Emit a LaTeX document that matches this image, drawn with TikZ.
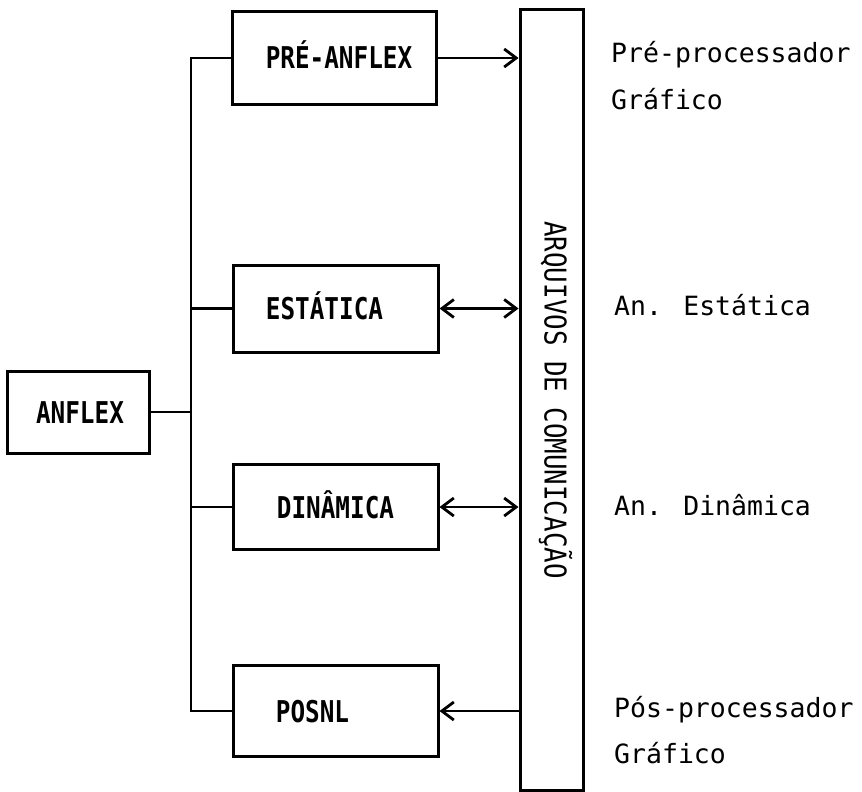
\documentclass[tikz,border=0pt]{standalone}
\usepackage{fontspec}
\usetikzlibrary{arrows.meta}
% monospaced faces, narrowed to the typewriter look of the drawing
\newfontfamily\boxfont[FakeStretch=0.81]{DejaVu Sans Mono}
\newfontfamily\barfont[FakeStretch=0.86]{DejaVu Sans Mono}
\newfontfamily\notefont{DejaVu Sans Mono}

\begin{document}
\begin{tikzpicture}[x=1pt,y=-1pt,
  box/.style={draw, line width=3pt, inner sep=0pt},
  boxlbl/.style={font={\fontsize{30pt}{32pt}\boxfont\bfseries}, text height=22pt, text depth=0pt, inner sep=0pt},
  barlbl/.style={font={\fontsize{30pt}{32pt}\barfont}, text height=22pt, text depth=0pt, inner sep=0pt, rotate=-90},
  note/.style={font={\fontsize{26.5pt}{28pt}\notefont}, anchor=base west, inner sep=0pt},
  wire/.style={line width=2.8pt},
  oneway/.style={-{Straight Barb[length=12pt,width=18pt]}},
  twoway/.style={{Straight Barb[length=12pt,width=18pt]}-{Straight Barb[length=12pt,width=18pt]}}
]
% page
\fill[white] (0,0) rectangle (862,792);
\useasboundingbox (0,0) rectangle (862,792);

% main program
\node[box, minimum width=142pt, minimum height=82pt] (anflex) at (78,412) {};
\node[boxlbl] (anflex-t) at ([xshift=2pt]anflex.center) {ANFLEX};

% modules
\node[box, minimum width=204pt, minimum height=92pt] (pre) at (334,58) {};
\node[boxlbl] (pre-t) at ([xshift=5pt]pre.center) {PRÉ-ANFLEX};

\node[box, minimum width=205pt, minimum height=87pt] (est) at (335.5,308.5) {};
\node[boxlbl] (est-t) at ([xshift=-11pt]est.center) {ESTÁTICA};

\node[box, minimum width=205pt, minimum height=85pt] (din) at (335.5,507) {};
\node[boxlbl] (din-t) at (din.center) {DINÂMICA};

\node[box, minimum width=205pt, minimum height=91pt] (pos) at (335.5,711) {};
\node[boxlbl] (pos-t) at ([xshift=-23pt]pos.center) {POSNL};

% communication files
\node[box, minimum width=63pt, minimum height=780pt] (bar) at (551.5,400) {};
\node[barlbl] (bar-t) at ([xshift=4pt]bar.center) {ARQUIVOS DE COMUNICAÇÃO};

% bus joining the main program to the modules
\coordinate (busTop) at (191,58);
\coordinate (busBot) at (busTop |- pos.west);
\draw[wire] (pre.west) -- (busTop) -- (busBot) -- (pos.west);
\draw[wire] (est.west) -- (est.west -| busTop);
\draw[wire] (din.west) -- (din.west -| busTop);
\draw[wire] (anflex.east) -- (anflex.east -| busTop);

% data flow to and from the files
\draw[wire, oneway] (pre.east) -- (pre.east -| bar.west);
\draw[wire, twoway] (est.east) -- (est.east -| bar.west);
\draw[wire, twoway] (din.east) -- (din.east -| bar.west);
\draw[wire, oneway] (pos.east -| bar.west) -- (pos.east);

% descriptions
\node[note] (n-pre1) at (611,63) {Pré-processador};
\node[note] (n-pre2) at (611,110) {Gráfico};
\node[note] (n-est) at (614,315) {An. Estática};
\node[note] (n-din) at (614,515) {An. Dinâmica};
\node[note] (n-pos1) at (614,717) {Pós-processador};
\node[note] (n-pos2) at (614,763) {Gráfico};
\end{tikzpicture}
\end{document}
